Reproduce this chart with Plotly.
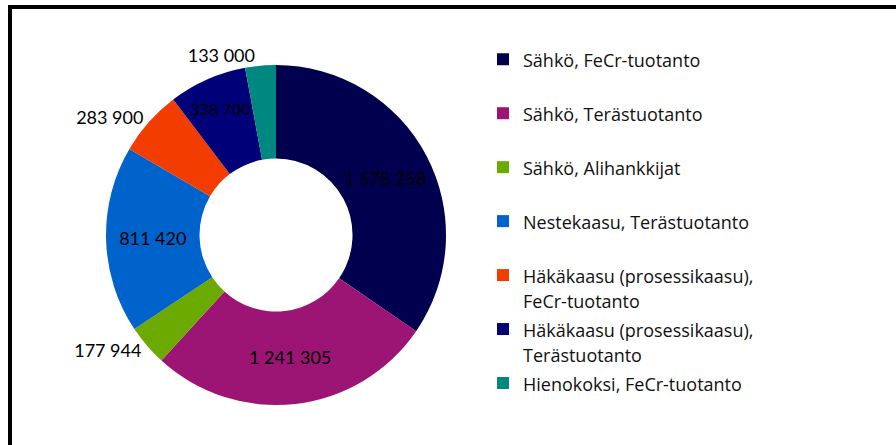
import plotly.graph_objects as go

categories = [
    "Sähkö, FeCr-tuotanto",
    "Sähkö, Terästuotanto",
    "Sähkö, Alihankkijat",
    "Nestekaasu, Terästuotanto",
    "Häkäkaasu (prosessikaasu),<br>FeCr-tuotanto",
    "Häkäkaasu (prosessikaasu),<br>Terästuotanto",
    "Hienokoksi, FeCr-tuotanto",
]
values = [1578258, 1241305, 177944, 811420, 283900, 338700, 133000]
colors = ["#00004F", "#9C1474", "#6BAA00", "#0063CC", "#F33C00", "#000078", "#00877F"]
text_positions = ["inside", "inside", "outside", "inside", "outside", "inside", "outside"]

value_labels = [f"{v:,}".replace(",", " ") for v in values]

# legend labels: each entry occupies two legend lines
legend_labels = []
for c in categories:
    lines = c.split("<br>")
    if len(lines) == 1:
        lines.append(" ")
    legend_labels.append("<br>".join(f'<span style="font-size:18px">{ln}</span>' for ln in lines))

W, H = 896, 445
cx, cy, r = 276, 235, 170

fig = go.Figure()
fig.add_trace(go.Pie(
    labels=legend_labels,
    values=values,
    text=value_labels,
    texttemplate="%{text}",
    textposition=text_positions,
    insidetextorientation="horizontal",
    marker=dict(colors=colors, line=dict(width=0)),
    hole=0.45,
    sort=False,
    direction="clockwise",
    rotation=0,
    textfont=dict(family="Lato", size=18, color="#000000"),
    outsidetextfont=dict(family="Lato", size=18, color="#000000"),
    insidetextfont=dict(family="Lato", size=18, color="#000000"),
    domain=dict(x=[(cx - r) / W, (cx + r) / W], y=[1 - (cy + r) / H, 1 - (cy - r) / H]),
    showlegend=True,
    hoverinfo="label+value",
))

fig.update_layout(
    width=W, height=H,
    margin=dict(l=0, r=0, t=0, b=0),
    paper_bgcolor="white",
    plot_bgcolor="white",
    showlegend=True,
    legend=dict(
        x=483 / W, y=1 - 40 / H, xanchor="left", yanchor="top",
        font=dict(family="Open Sans", size=19.6, color="#111111"),
        valign="top",
        bgcolor="rgba(0,0,0,0)",
        borderwidth=0,
        traceorder="normal",
    ),
    shapes=[
        dict(type="line", xref="paper", yref="paper", x0=8 / W, x1=1, y0=1 - 7 / H, y1=1 - 7 / H,
             line=dict(color="black", width=4)),
        dict(type="line", xref="paper", yref="paper", x0=10 / W, x1=10 / W, y0=1 - 5 / H, y1=0,
             line=dict(color="black", width=4)),
    ],
)

fig.write_html(
    "out.html",
    config={"displayModeBar": False},
    post_script="document.body.style.margin='0';",
)
